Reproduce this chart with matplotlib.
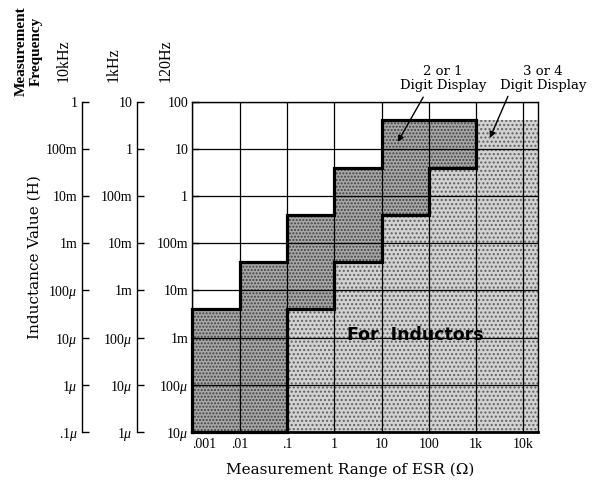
import matplotlib
matplotlib.use('Agg')
import matplotlib.pyplot as plt
from matplotlib.ticker import FixedLocator, NullLocator, FixedFormatter

# ---------------- data ----------------
esr_ticks = [1e-3, 1e-2, 1e-1, 1, 10, 100, 1e3, 1e4]
esr_labels = ['.001', '.01', '.1', '1', '10', '100', '1k', '10k']
esr_max = 2e4

# inductance decades (120 Hz scale, H)
ind_ticks = [1e-5, 1e-4, 1e-3, 1e-2, 1e-1, 1, 10, 100]
lab_120 = ['10$\\mu$', '100$\\mu$', '1m', '10m', '100m', '1', '10', '100']
lab_1k = ['1$\\mu$', '10$\\mu$', '100$\\mu$', '1m', '10m', '100m', '1', '10']
lab_10k = ['.1$\\mu$', '1$\\mu$', '10$\\mu$', '100$\\mu$', '1m', '10m', '100m', '1']

# "2 or 1 Digit Display" region: ESR segment edges, lower / upper inductance
two_x = [1e-3, 1e-2, 1e-1, 1, 10, 100, 1e3]
two_low = [1e-5, 1e-5, 4e-3, 4e-2, 0.4, 4]
two_high = [4e-3, 4e-2, 0.4, 4, 40, 40]

# "3 or 4 Digit Display" region
four_x = [1e-1, 1, 10, 100, 1e3, 2e4]
four_low = [1e-5, 1e-5, 1e-5, 1e-5, 1e-5]
four_high = [4e-3, 4e-2, 0.4, 4, 40]


def step_polygon(xs, low, high):
    pts = [(xs[0], low[0]), (xs[0], high[0])]
    for i in range(len(high)):
        pts.append((xs[i + 1], high[i]))
        if i + 1 < len(high):
            pts.append((xs[i + 1], high[i + 1]))
    pts.append((xs[-1], low[-1]))
    for i in range(len(low) - 1, -1, -1):
        pts.append((xs[i], low[i]))
        if i > 0:
            pts.append((xs[i], low[i - 1]))
    return pts


plt.rcParams['mathtext.fontset'] = 'custom'
plt.rcParams['mathtext.rm'] = 'Liberation Serif'
plt.rcParams['mathtext.it'] = 'Liberation Serif:italic'
plt.rcParams['hatch.linewidth'] = 1.0

W, H = 592, 482
fig = plt.figure(figsize=(W / 100, H / 100), dpi=100)

x0, x1 = 192.3, 537.7
y0, y1 = 101.7, 432.0
pos = [x0 / W, 1 - y1 / H, (x1 - x0) / W, (y1 - y0) / H]
ax = fig.add_axes(pos)
ax.set_xscale('log')
ax.set_yscale('log')
ax.set_xlim(1e-3, esr_max)
ax.set_ylim(1e-5, 100)

# fills
p4 = step_polygon(four_x, four_low, four_high)
ax.fill([p[0] for p in p4], [p[1] for p in p4], facecolor='#d2d2d2',
        edgecolor='#606060', hatch='....', linewidth=0, zorder=1)
p2 = step_polygon(two_x, two_low, two_high)
ax.fill([p[0] for p in p2], [p[1] for p in p2], facecolor='#a8a8a8',
        edgecolor='#404040', hatch='.....', linewidth=0, zorder=1.2)
ax.plot([p[0] for p in p2] + [p2[0][0]], [p[1] for p in p2] + [p2[0][1]],
        color='black', lw=2.3, zorder=4, solid_joinstyle='miter',
        clip_on=False)

# grid
ax.xaxis.set_major_locator(FixedLocator(esr_ticks))
ax.xaxis.set_minor_locator(NullLocator())
ax.xaxis.set_major_formatter(FixedFormatter(esr_labels))
ax.yaxis.set_major_locator(FixedLocator(ind_ticks))
ax.yaxis.set_minor_locator(NullLocator())
ax.yaxis.set_major_formatter(FixedFormatter(lab_120))
ax.set_axisbelow(False)
ax.grid(True, color='black', lw=0.9)
for s in ['top', 'right', 'left']:
    ax.spines[s].set_linewidth(1.0)
ax.spines['bottom'].set_linewidth(2.0)
ax.tick_params(axis='x', length=0, pad=4, labelsize=10)
ax.tick_params(axis='y', direction='in', length=5, width=1, pad=3,
               labelsize=10)
for t in ax.get_xticklabels() + ax.get_yticklabels():
    t.set_fontfamily('Liberation Serif')
fig.canvas.draw()
xl = ax.get_xticklabels()
xl[0].set_horizontalalignment('left')

# secondary frequency scales
for xpix, labs in [(136.7, lab_1k), (81.7, lab_10k)]:
    a = fig.add_axes([xpix / W, pos[1], 0.0001, pos[3]])
    a.set_yscale('log')
    a.set_ylim(1e-5, 100)
    a.patch.set_visible(False)
    for s in ['top', 'right', 'bottom']:
        a.spines[s].set_visible(False)
    a.spines['left'].set_linewidth(1.0)
    a.set_xticks([])
    a.yaxis.set_major_locator(FixedLocator(ind_ticks))
    a.yaxis.set_minor_locator(NullLocator())
    a.yaxis.set_major_formatter(FixedFormatter(labs))
    a.tick_params(axis='y', direction='in', length=5, width=1, pad=3,
                  labelsize=10)
    for t in a.get_yticklabels():
        t.set_fontfamily('Liberation Serif')


# header texts
def fx(px):
    return px / W


def fy(py):
    return 1 - py / H


for xc, txt in [(64, '10kHz'), (114, '1kHz'), (166, '120Hz')]:
    fig.text(fx(xc), fy(82), txt, rotation=90, ha='center', va='bottom',
             fontsize=11.5, family='Liberation Serif')
fig.text(fx(21), fy(51), 'Measurement', rotation=90, ha='center',
         va='center', fontsize=11, family='Liberation Serif',
         fontweight='bold')
fig.text(fx(36), fy(51), 'Frequency', rotation=90, ha='center',
         va='center', fontsize=11, family='Liberation Serif',
         fontweight='bold')

fig.text(fx(35), fy(257), 'Inductance Value (H)', rotation=90,
         ha='center', va='center', fontsize=11, family='DejaVu Serif')
fig.text(fx(350), fy(470), 'Measurement Range of ESR (\u03a9)',
         ha='center', va='center', fontsize=11, family='DejaVu Serif')

# annotations
ax.text(200, 160, '2 or 1\nDigit Display', ha='center', va='bottom',
        fontsize=9.5, family='DejaVu Serif', linespacing=1.1, clip_on=False,
        zorder=6)
ax.text(2.6e4, 160, '3 or 4\nDigit Display', ha='center', va='bottom',
        fontsize=9.5, family='DejaVu Serif', linespacing=1.1, clip_on=False,
        zorder=6)
arrow = dict(arrowstyle='-|>', color='black', lw=1, mutation_scale=9,
             shrinkA=0, shrinkB=0)
ax.annotate('', xy=(22, 14), xytext=(76, 125), annotation_clip=False,
            arrowprops=arrow, zorder=6)
ax.annotate('', xy=(1950, 17), xytext=(4700, 130), annotation_clip=False,
            arrowprops=arrow, zorder=6)

ax.text(10 ** 1.71, 10 ** -2.95, 'For  Inductors', ha='center',
        va='center', fontsize=12.5, fontweight='bold', family='DejaVu Sans',
        zorder=6)

fig.savefig('out.png', dpi=100)
